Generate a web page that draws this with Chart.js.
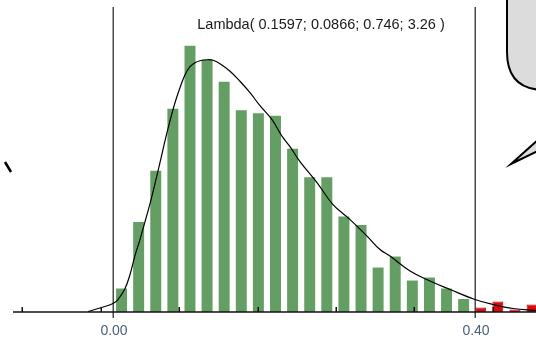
<!DOCTYPE html>
<html>
<head>
<meta charset="utf-8">
<script src="https://cdn.jsdelivr.net/npm/chart.js@4/dist/chart.umd.min.js"></script>
<style>
  html, body { margin: 0; padding: 0; background: #fff; }
  #wrap { width: 536px; height: 340px; position: relative; }
</style>
</head>
<body>
<div id="wrap"><canvas id="myChart"></canvas></div>
<script>
// histogram (density), bins start at 0
const binStart = 0
const binWidth = 0.0189
const greenBins = [0.47, 1.80, 2.83, 4.07, 5.33, 5.05, 4.61, 4.04, 3.98, 3.93, 3.27, 2.70, 2.70, 1.91, 1.74, 0.89, 1.11, 0.63, 0.69, 0.47, 0.26]
const redBins = [0.09, 0.21, 0.05, 0.15]

// fitted Lambda curve
const curveX = [-0.0276, -0.0144, 0, 0.0055, 0.0133, 0.0188, 0.0243, 0.0298, 0.0354, 0.0409, 0.0464, 0.0519, 0.0575, 0.0630, 0.0685, 0.0740, 0.0796, 0.0851, 0.0906, 0.0961, 0.1039, 0.1105, 0.1182, 0.1293, 0.1403, 0.1514, 0.1624, 0.1757, 0.1867, 0.1956, 0.2066, 0.2254, 0.2431, 0.2619, 0.2807, 0.2950, 0.3061, 0.3282, 0.3503, 0.3724, 0.4000, 0.4199, 0.4420, 0.4674]
const curveY = [0.01, 0.08, 0.17, 0.25, 0.47, 0.75, 1.13, 1.45, 1.81, 2.17, 2.57, 2.99, 3.43, 3.83, 4.19, 4.49, 4.75, 4.91, 4.99, 5.03, 5.05, 5.04, 4.97, 4.82, 4.62, 4.39, 4.13, 3.85, 3.52, 3.31, 3.01, 2.59, 2.15, 1.85, 1.52, 1.25, 1.12, 0.82, 0.62, 0.45, 0.25, 0.15, 0.07, 0.03]

// delimiters and small marks on the axis
const delimiters = [0.00, 0.40]
const minorTicks = [-0.1001, -0.0135, 0.0731, 0.1597, 0.2463, 0.3329, 0.4195]
const fitLabel = "Lambda( 0.1597; 0.0866; 0.746; 3.26 )"

let greenData = greenBins.map((v, i) => ({ x: binStart + (i + 0.5) * binWidth, y: v }))
let redData = redBins.map((v, i) => ({ x: binStart + (greenBins.length + i + 0.5) * binWidth, y: v }))
let curveData = curveX.map((x, i) => ({ x: x, y: curveY[i] }))

const extras = {
    id: 'extras',
    beforeDatasetsDraw(chart) {
        const ctx = chart.ctx
        const xs = chart.scales.x
        const area = chart.chartArea
        ctx.save()
        ctx.strokeStyle = '#4a4a4a'
        ctx.lineWidth = 1.5
        delimiters.forEach(v => {
            let px = Math.round(xs.getPixelForValue(v)) + 0.25
            ctx.beginPath()
            ctx.moveTo(px, area.top)
            ctx.lineTo(px, area.bottom + 6)
            ctx.stroke()
        })
        ctx.restore()
    },
    afterDraw(chart) {
        const ctx = chart.ctx
        const xs = chart.scales.x
        const area = chart.chartArea
        ctx.save()
        // axis line
        ctx.strokeStyle = '#111'
        ctx.lineWidth = 1.5
        ctx.beginPath()
        ctx.moveTo(area.left, area.bottom)
        ctx.lineTo(area.right, area.bottom)
        ctx.stroke()
        // small marks
        minorTicks.forEach(v => {
            let px = Math.round(xs.getPixelForValue(v)) + 0.25
            ctx.beginPath()
            ctx.moveTo(px, area.bottom)
            ctx.lineTo(px, area.bottom - 5)
            ctx.stroke()
        })
        // delimiter labels
        ctx.fillStyle = '#4a6080'
        ctx.font = '14px "Liberation Sans", Arial, sans-serif'
        ctx.textAlign = 'center'
        ctx.textBaseline = 'middle'
        delimiters.forEach(v => {
            ctx.fillText(v.toFixed(2), xs.getPixelForValue(v) + 1, area.bottom + 19)
        })
        // fit label
        ctx.fillStyle = '#1a1a1a'
        ctx.font = '14.5px "Liberation Sans", Arial, sans-serif'
        ctx.fillText(fitLabel, 321, 25)

        // callout at top right
        ctx.fillStyle = '#dcdcdc'
        ctx.strokeStyle = '#000'
        ctx.lineWidth = 2
        ctx.beginPath()
        ctx.moveTo(507, -10)
        ctx.lineTo(507, 52)
        ctx.quadraticCurveTo(507, 90, 545, 90)
        ctx.lineTo(545, -10)
        ctx.closePath()
        ctx.fill()
        ctx.stroke()
        ctx.beginPath()
        ctx.moveTo(540, 138)
        ctx.lineTo(511, 164)
        ctx.lineTo(540, 150)
        ctx.fill()
        ctx.stroke()

        // stray mark at left
        ctx.lineWidth = 2.5
        ctx.beginPath()
        ctx.moveTo(5, 162)
        ctx.lineTo(11, 172)
        ctx.stroke()
        ctx.restore()
    }
}

new Chart("myChart", {
    data: {
        datasets: [
            {
                type: 'line',
                data: curveData,
                borderColor: '#000',
                borderWidth: 1.2,
                pointRadius: 0,
                tension: 0.4,
                fill: false
            },
            {
                type: 'bar',
                data: greenData,
                backgroundColor: '#639e63',
                barPercentage: 0.64,
                categoryPercentage: 1,
                grouped: false
            },
            {
                type: 'bar',
                data: redData,
                backgroundColor: '#e00808',
                borderColor: '#b00000',
                borderWidth: 1,
                barPercentage: 0.64,
                categoryPercentage: 1,
                grouped: false
            }
        ]
    },
    options: {
        responsive: true,
        maintainAspectRatio: false,
        animation: false,
        layout: { padding: { left: 13, right: 0, top: 7, bottom: 28 } },
        plugins: {
            legend: { display: false },
            tooltip: { enabled: false }
        },
        scales: {
            x: {
                type: 'linear',
                display: false,
                min: -0.1105,
                max: 0.4674,
                offset: false
            },
            y: {
                display: false,
                min: 0,
                max: 6.106
            }
        }
    },
    plugins: [extras]
});
</script>
</body>
</html>
